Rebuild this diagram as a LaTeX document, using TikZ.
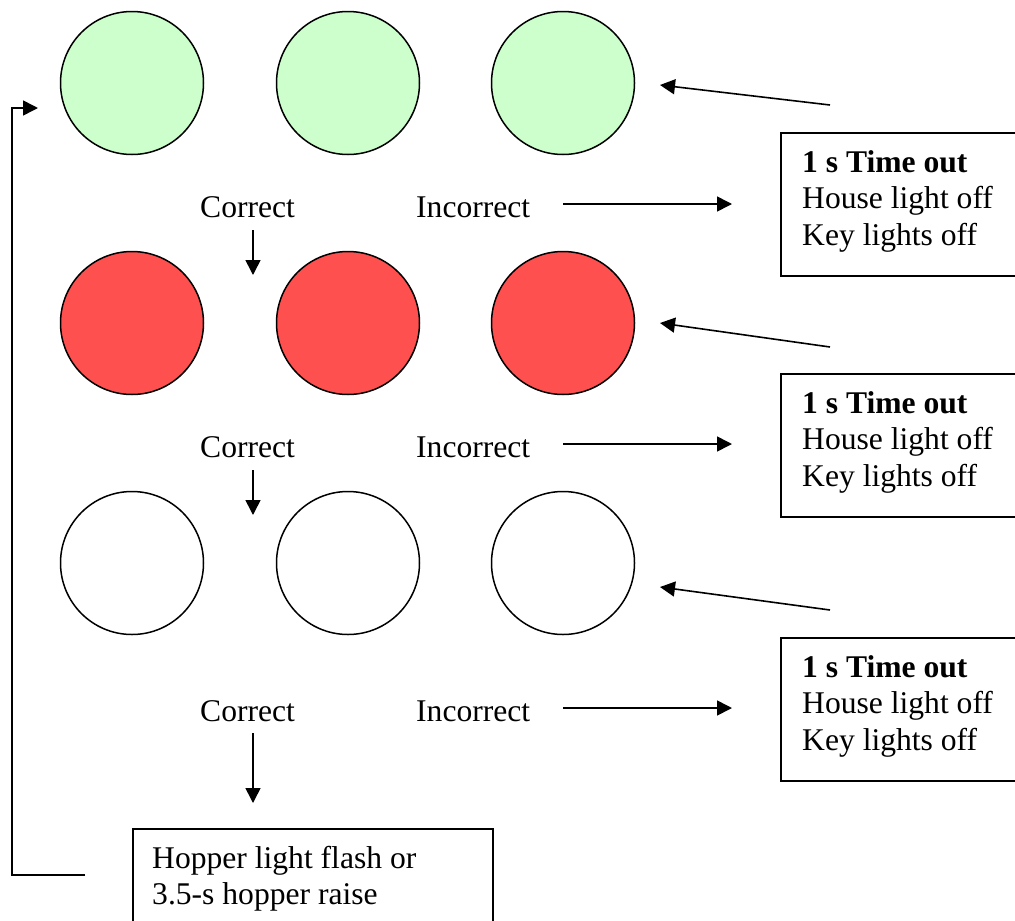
\documentclass[tikz,border=0pt]{standalone}
\usepackage{fontspec}
\setmainfont{Liberation Serif}
\usetikzlibrary{arrows.meta}
\definecolor{lampgreen}{HTML}{CCFFCC}
\definecolor{lampred}{HTML}{FF5050}
\begin{document}
\begin{tikzpicture}[x=1pt,y=-1pt,
  every node/.style={font=\fontsize{31.6}{36.5}\selectfont},
  lamp/.style={circle, draw, line width=1.5pt, minimum size=143pt, inner sep=0pt},
  lbl/.style={anchor=base west, inner sep=0pt},
  conn/.style={line width=1.6pt, -{Triangle[length=15pt,width=15pt]}},
  frame/.style={draw, line width=1.6pt, rectangle, anchor=north west, inner sep=0pt},
  boxtext/.style={anchor=north west, inner sep=0pt, align=left}]
\useasboundingbox (0,0) rectangle (1015,921);
\clip (0,0) rectangle (1015,921);

% lamps
\foreach \r/\y/\c in {1/83/lampgreen, 2/323/lampred, 3/563/white}{
  \node[lamp, fill=\c] (l\r a) at (132,\y) {};
  \node[lamp, fill=\c] (l\r b) at (348,\y) {};
  \node[lamp, fill=\c] (l\r c) at (563,\y) {};
}

% labels
\foreach \r/\y in {1/217, 2/457, 3/721}{
  \node[lbl] (cor\r) at (200,\y) {Correct};
  \node[lbl] (inc\r) at (416,\y) {Incorrect};
}

% time-out boxes
\foreach \r/\t in {1/132, 2/373, 3/637}{
  \node[frame, minimum width=260pt, minimum height=143pt] (box\r) at (780,\t) {};
  \node[boxtext] (boxt\r) at (802,\t+18) {\textbf{1 s Time out}\\House light off\\Key lights off};
}

% hopper box
\node[frame, minimum width=360pt, minimum height=150pt] (hop) at (132,828) {};
\node[boxtext] (hopt) at (152,846) {Hopper light flash or\\3.5-s hopper raise};

% coordinates for connector ends
\foreach \r/\yc/\ys/\yi/\dys/\dye in {1/230/275/204/105/85, 2/470/515/444/347/323, 3/733/803/708/610/587}{
  \coordinate (cs\r) at (253,\yc);
  \coordinate (ce\r) at (253,\ys);
  \coordinate (is\r) at (563,\yi);
  \coordinate (ie\r) at (732,\yi);
  \coordinate (ds\r) at (830,\dys);
  \coordinate (de\r) at (660,\dye);
  \draw[conn] (cs\r) -- (ce\r);
  \draw[conn] (is\r) -- (ie\r);
  \draw[conn] (ds\r) -- (de\r);
}

% feedback loop
\coordinate (fb0) at (85,875);
\coordinate (fb1) at (12,875);
\coordinate (fb2) at (12,108);
\coordinate (fb3) at (38,108);
\draw[conn] (fb0) -- (fb1) -- (fb2) -- (fb3);
\end{tikzpicture}
\end{document}
